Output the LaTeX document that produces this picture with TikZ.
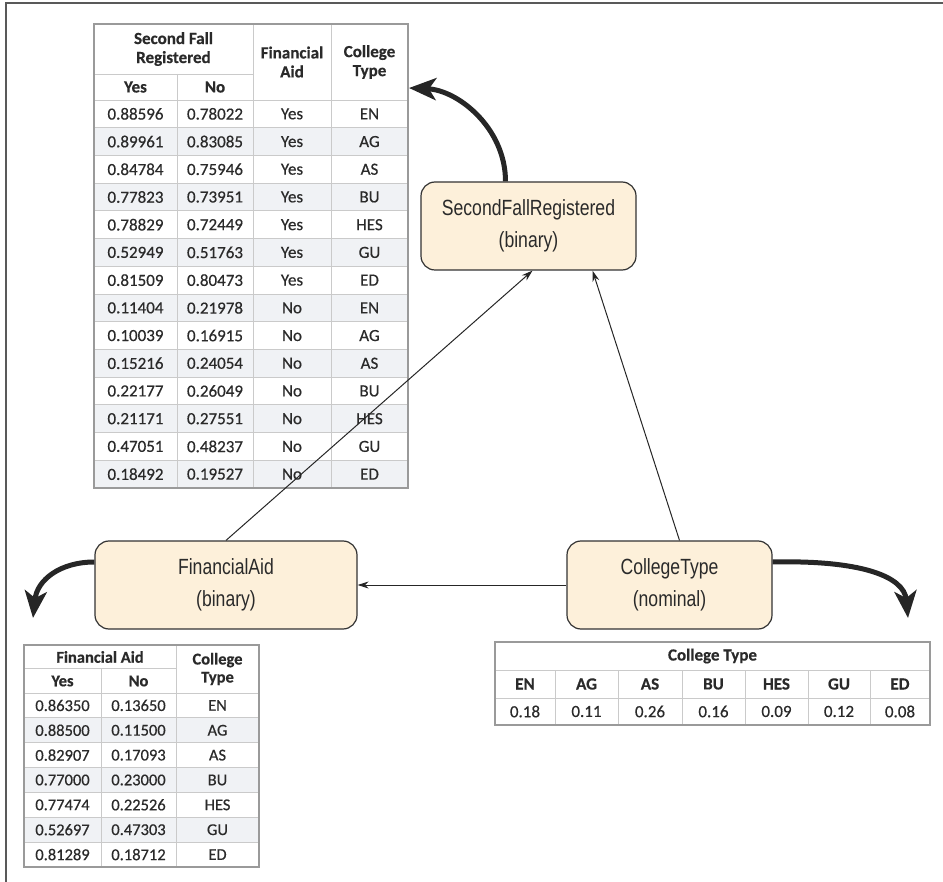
\documentclass[tikz,border=0pt]{standalone}
\usepackage{fontspec}
\setmainfont{Liberation Sans}
\newfontfamily\nodefont[FakeStretch=0.8]{Liberation Sans}
\newfontfamily\tabfont[FakeBold=0.5]{Carlito}
\usetikzlibrary{arrows.meta,calc}
\definecolor{nodefill}{HTML}{FDF0DA}
\definecolor{nodeline}{HTML}{333333}
\definecolor{rowgray}{HTML}{F0F2F5}
\definecolor{gridc}{HTML}{CACACA}
\definecolor{frameg}{HTML}{9A9A9A}
\definecolor{txt}{HTML}{2A2A2A}
\tikzset{
  var/.style={draw=nodeline, line width=1.2pt, fill=nodefill, rounded corners=14pt,
    minimum height=88pt, align=center, text=txt,
    font=\nodefont\fontsize{22}{32}\selectfont, inner sep=0pt},
  conn/.style={line width=1pt, draw=black!85, -{Stealth[length=11pt,width=7pt]}},
  fat/.style={line width=5pt, draw=black!85, -{Stealth[length=27pt,width=22pt,inset=7pt]}},
  cell/.style={font=\tabfont\fontsize{17}{18}\selectfont, text=txt, inner sep=0pt},
  scell/.style={font=\tabfont\fontsize{16.5}{17}\selectfont, text=txt, inner sep=0pt},
  hcell/.style={font=\tabfont\bfseries\fontsize{17}{19}\selectfont, text=txt, inner sep=0pt, align=center},
  shcell/.style={font=\tabfont\bfseries\fontsize{16.5}{18}\selectfont, text=txt, inner sep=0pt, align=center},
  grid/.style={draw=gridc, line width=0.8pt},
  tframe/.style={draw=frameg, line width=1.6pt}
}
\begin{document}
\begin{tikzpicture}[x=1pt,y=-1pt]
\useasboundingbox (0,0) rectangle (943,882);
% frame
\draw[draw=black!65, line width=2pt] (943,3) -- (6,3) -- (6,882);

% ===== top table =====
\def\ttop{24}\def\tmid{74}\def\thb{100}\def\trh{27.714}
\foreach \i in {2,4,...,14} {
  \fill[rowgray] (94,{\thb+(\i-1)*\trh}) rectangle (408,{\thb+\i*\trh});
}
\foreach \i in {1,...,13} { \draw[grid] (94,{\thb+\i*\trh}) -- (408,{\thb+\i*\trh}); }
\draw[grid] (94,\thb) -- (408,\thb);
\draw[grid] (94,\tmid) -- (253,\tmid);
\draw[grid] (177,\tmid) -- (177,488);
\draw[grid] (253,\ttop) -- (253,488);
\draw[grid] (331,\ttop) -- (331,488);
\draw[tframe] (94,\ttop) rectangle (408,488);
\node[hcell] (tsfr) at (173.5,49) {Second Fall\\Registered};
\node[hcell] (tyes) at (135.5,87) {Yes};
\node[hcell] (tno) at (215,87) {No};
\node[hcell] (tfa) at (292,62) {Financial\\Aid};
\node[hcell] (tct) at (369.5,62) {College\\Type};
\foreach \a/\b/\c/\d [count=\i] in {
 0.88596/0.78022/Yes/EN, 0.89961/0.83085/Yes/AG, 0.84784/0.75946/Yes/AS,
 0.77823/0.73951/Yes/BU, 0.78829/0.72449/Yes/HES, 0.52949/0.51763/Yes/GU,
 0.81509/0.80473/Yes/ED, 0.11404/0.21978/No/EN, 0.10039/0.16915/No/AG,
 0.15216/0.24054/No/AS, 0.22177/0.26049/No/BU, 0.21171/0.27551/No/HES,
 0.47051/0.48237/No/GU, 0.18492/0.19527/No/ED} {
  \node[cell] (ta\i) at (135.5,{\thb+(\i-0.5)*\trh}) {\a};
  \node[cell] (tb\i) at (215,{\thb+(\i-0.5)*\trh}) {\b};
  \node[cell] (tc\i) at (292,{\thb+(\i-0.5)*\trh}) {\c};
  \node[cell] (td\i) at (369.5,{\thb+(\i-0.5)*\trh}) {\d};
}

% ===== bottom-left table =====
\def\btop{645}\def\bmid{668}\def\bhb{693}\def\brh{24.857}
\foreach \i in {2,4,6} {
  \fill[rowgray] (24,{\bhb+(\i-1)*\brh}) rectangle (259,{\bhb+\i*\brh});
}
\foreach \i in {1,...,6} { \draw[grid] (24,{\bhb+\i*\brh}) -- (259,{\bhb+\i*\brh}); }
\draw[grid] (24,\bhb) -- (259,\bhb);
\draw[grid] (24,\bmid) -- (176,\bmid);
\draw[grid] (101,\bmid) -- (101,867);
\draw[grid] (176,\btop) -- (176,867);
\draw[tframe] (24,\btop) rectangle (259,867);
\node[shcell] (bfa) at (100,657) {Financial Aid};
\node[shcell] (byes) at (62.5,681) {Yes};
\node[shcell] (bno) at (138.5,681) {No};
\node[shcell] (bct) at (217.5,669) {College\\Type};
\foreach \a/\b/\d [count=\i] in {
 0.86350/0.13650/EN, 0.88500/0.11500/AG, 0.82907/0.17093/AS, 0.77000/0.23000/BU,
 0.77474/0.22526/HES, 0.52697/0.47303/GU, 0.81289/0.18712/ED} {
  \node[scell] (ba\i) at (62.5,{\bhb+(\i-0.5)*\brh}) {\a};
  \node[scell] (bb\i) at (138.5,{\bhb+(\i-0.5)*\brh}) {\b};
  \node[scell] (bd\i) at (217.5,{\bhb+(\i-0.5)*\brh}) {\d};
}

% ===== right table =====
\draw[grid] (495,670) -- (930,670);
\draw[grid] (495,698) -- (930,698);
\foreach \x in {555,618,682,745,808,870} { \draw[grid] (\x,670) -- (\x,725); }
\draw[tframe] (495,642) rectangle (930,725);
\node[hcell] (rct) at (712.5,656) {College Type};
\foreach \n/\v/\x [count=\i] in {EN/0.18/525, AG/0.11/586.5, AS/0.26/650, BU/0.16/713.5,
  HES/0.09/776.5, GU/0.12/839, ED/0.08/900} {
  \node[hcell] (rn\i) at (\x,684) {\n};
  \node[cell] (rv\i) at (\x,711.5) {\v};
}

% ===== variable nodes =====
\node[var, minimum width=215pt] (sfr) at (528.5,226) {SecondFallRegistered\\(binary)};
\node[var, minimum width=262pt] (fa) at (226,585) {FinancialAid\\(binary)};
\node[var, minimum width=205pt] (ct) at (669.5,585) {CollegeType\\(nominal)};

% ===== connectors =====
\draw[conn] (ct.west) -- (fa.east);
\draw[conn] (fa.north) -- ([xshift=4pt]sfr.south);
\draw[conn] ([xshift=10pt]ct.north) -- ([xshift=64pt]sfr.south);

\coordinate (sfrtip) at (409,88);
\coordinate (fatip) at (33,618);
\coordinate (cttip) at (908,618);
\draw[fat] ([xshift=-23pt]sfr.north) .. controls (505.5,128) and (458,90) .. (sfrtip);
\draw[fat] ([yshift=23pt]fa.west) .. controls (60,562) and (37,580) .. (fatip);
\draw[fat] ([yshift=23pt]ct.east) .. controls (860,560) and (904,576) .. (cttip);
\end{tikzpicture}
\end{document}
